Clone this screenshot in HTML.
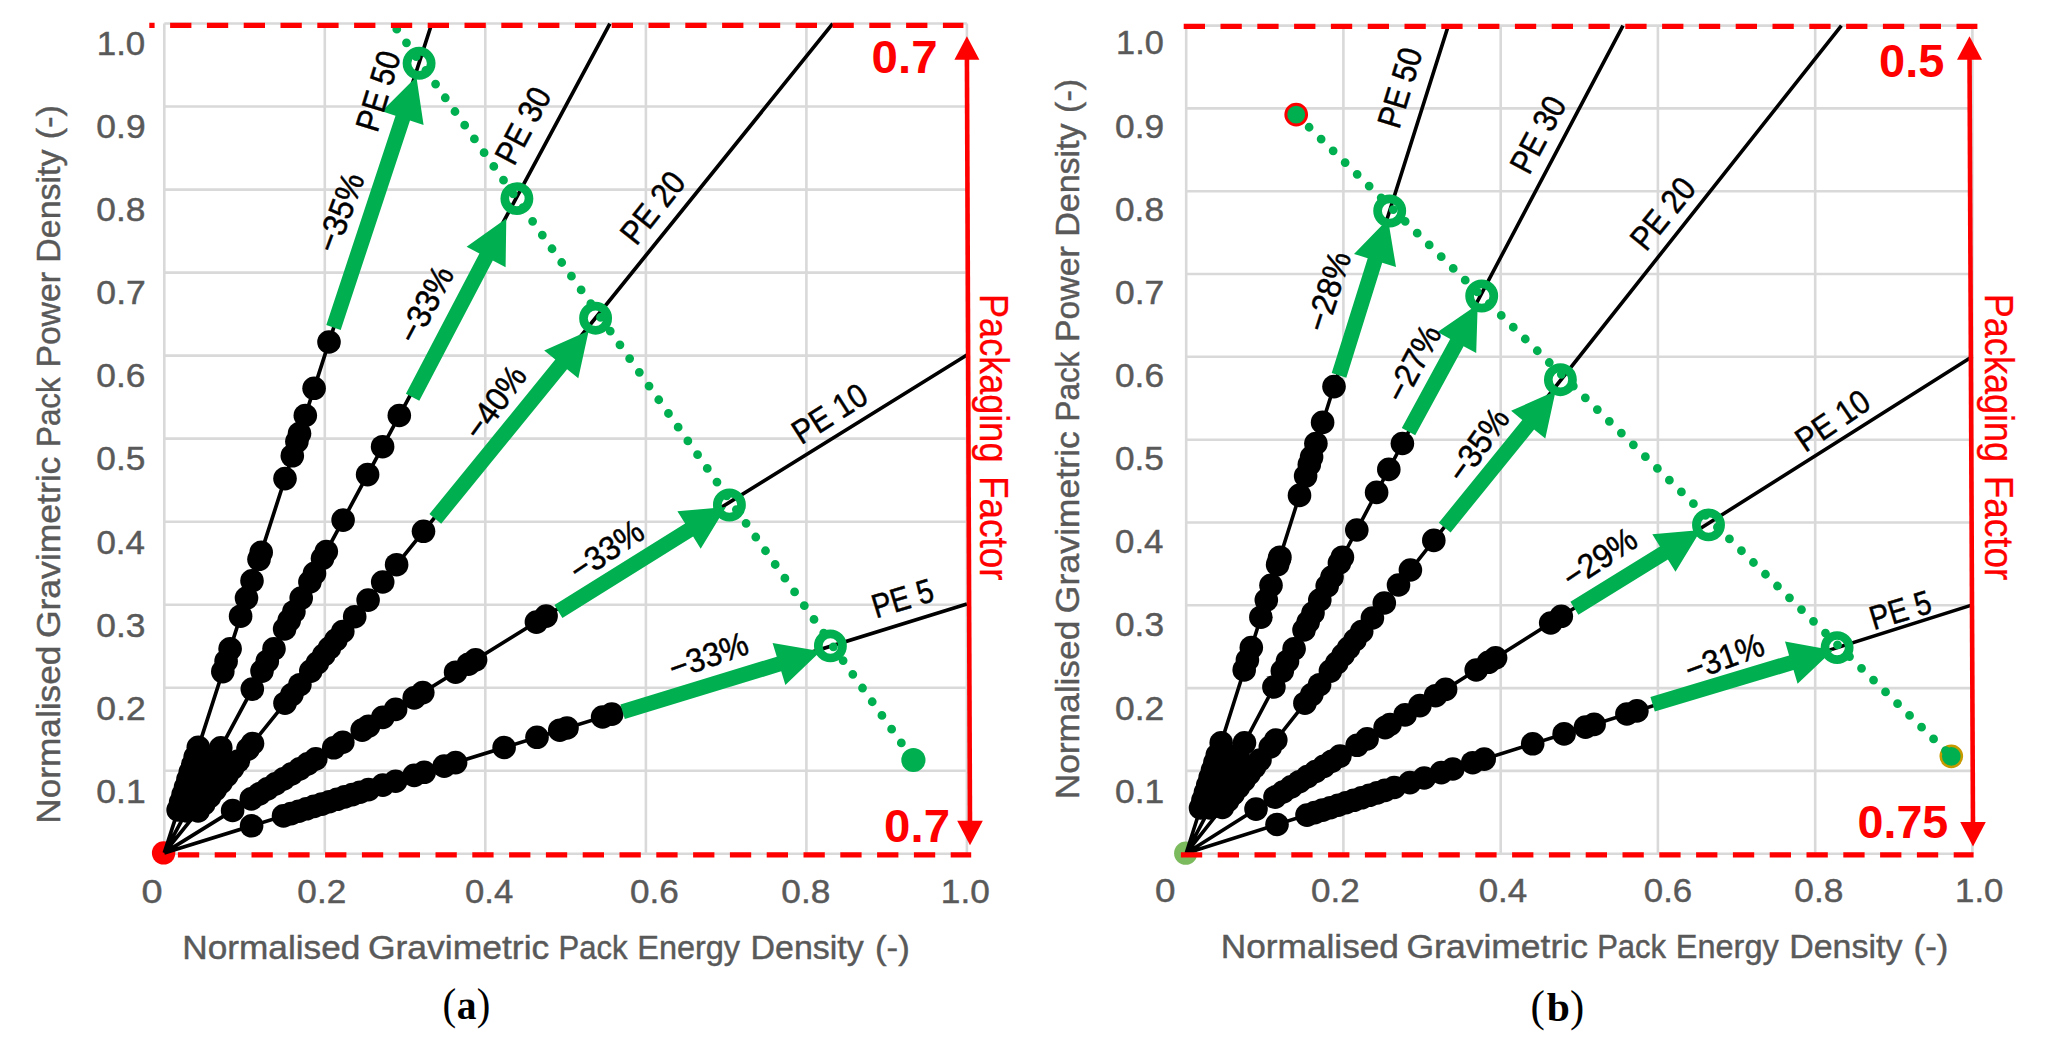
<!DOCTYPE html>
<html lang="en"><head><meta charset="utf-8"><title>Normalised Gravimetric Pack Power vs Energy Density</title>
<style>html,body{margin:0;padding:0;background:#fff}svg{display:block}</style></head>
<body>
<svg width="2045" height="1051" viewBox="0 0 2045 1051">
<rect width="2045" height="1051" fill="#fff"/>
<path d="M164.3 853.8H966.9M164.3 770.8H966.9M164.3 687.7H966.9M164.3 604.7H966.9M164.3 521.7H966.9M164.3 438.6H966.9M164.3 355.6H966.9M164.3 272.6H966.9M164.3 189.6H966.9M164.3 106.5H966.9M164.3 23.5H966.9M164.3 23.5V853.8M324.8 23.5V853.8M485.3 23.5V853.8M645.9 23.5V853.8M806.4 23.5V853.8M966.9 23.5V853.8" stroke="#D9D9D9" stroke-width="2.6" fill="none"/>
<circle cx="163.6" cy="852.9" r="11.7" fill="#FF0000"/>
<path d="M164.3 852.9L431.7 23.7M164.3 852.9L609.9 23.7M164.3 852.9L832.7 23.7M164.3 852.9L966.9 355.0M164.3 852.9L966.9 604.0" stroke="#000" stroke-width="3.7" fill="none"/>
<g fill="#000"><circle cx="329.0" cy="342.0" r="11.8"/><circle cx="314.1" cy="388.3" r="11.8"/><circle cx="305.3" cy="415.5" r="11.8"/><circle cx="299.5" cy="433.6" r="11.8"/><circle cx="296.9" cy="441.5" r="11.8"/><circle cx="292.3" cy="455.8" r="11.8"/><circle cx="285.0" cy="478.6" r="11.8"/><circle cx="261.2" cy="552.3" r="11.8"/><circle cx="259.0" cy="559.3" r="11.8"/><circle cx="252.0" cy="580.8" r="11.8"/><circle cx="246.5" cy="598.1" r="11.8"/><circle cx="240.6" cy="616.2" r="11.8"/><circle cx="230.1" cy="648.8" r="11.8"/><circle cx="226.1" cy="661.2" r="11.8"/><circle cx="222.8" cy="671.6" r="11.8"/><circle cx="198.3" cy="747.3" r="11.8"/><circle cx="195.2" cy="757.0" r="11.8"/><circle cx="192.8" cy="764.6" r="11.8"/><circle cx="190.3" cy="772.1" r="11.8"/><circle cx="187.9" cy="779.7" r="11.8"/><circle cx="185.5" cy="787.3" r="11.8"/><circle cx="183.0" cy="794.9" r="11.8"/><circle cx="180.6" cy="802.4" r="11.8"/><circle cx="178.1" cy="810.0" r="11.8"/><circle cx="399.3" cy="415.5" r="11.8"/><circle cx="382.6" cy="446.7" r="11.8"/><circle cx="367.6" cy="474.6" r="11.8"/><circle cx="343.1" cy="520.1" r="11.8"/><circle cx="326.3" cy="551.5" r="11.8"/><circle cx="322.5" cy="558.5" r="11.8"/><circle cx="314.5" cy="573.4" r="11.8"/><circle cx="309.9" cy="582.0" r="11.8"/><circle cx="301.2" cy="598.1" r="11.8"/><circle cx="293.9" cy="611.7" r="11.8"/><circle cx="289.2" cy="620.4" r="11.8"/><circle cx="284.6" cy="629.0" r="11.8"/><circle cx="274.0" cy="648.8" r="11.8"/><circle cx="267.3" cy="661.2" r="11.8"/><circle cx="262.0" cy="671.1" r="11.8"/><circle cx="252.3" cy="689.1" r="11.8"/><circle cx="220.8" cy="747.8" r="11.8"/><circle cx="215.8" cy="757.0" r="11.8"/><circle cx="211.7" cy="764.7" r="11.8"/><circle cx="207.5" cy="772.4" r="11.8"/><circle cx="203.4" cy="780.1" r="11.8"/><circle cx="199.3" cy="787.9" r="11.8"/><circle cx="195.1" cy="795.6" r="11.8"/><circle cx="191.0" cy="803.3" r="11.8"/><circle cx="186.8" cy="811.0" r="11.8"/><circle cx="423.5" cy="531.3" r="11.8"/><circle cx="396.6" cy="564.7" r="11.8"/><circle cx="382.7" cy="582.0" r="11.8"/><circle cx="368.1" cy="600.1" r="11.8"/><circle cx="354.7" cy="616.7" r="11.8"/><circle cx="342.8" cy="631.5" r="11.8"/><circle cx="335.9" cy="640.0" r="11.8"/><circle cx="329.5" cy="648.0" r="11.8"/><circle cx="323.8" cy="655.0" r="11.8"/><circle cx="317.4" cy="663.0" r="11.8"/><circle cx="310.8" cy="671.1" r="11.8"/><circle cx="299.9" cy="684.7" r="11.8"/><circle cx="291.9" cy="694.6" r="11.8"/><circle cx="285.0" cy="703.2" r="11.8"/><circle cx="252.5" cy="743.5" r="11.8"/><circle cx="248.0" cy="749.0" r="11.8"/><circle cx="238.4" cy="761.0" r="11.8"/><circle cx="232.6" cy="768.1" r="11.8"/><circle cx="226.9" cy="775.3" r="11.8"/><circle cx="221.1" cy="782.4" r="11.8"/><circle cx="215.3" cy="789.6" r="11.8"/><circle cx="209.6" cy="796.7" r="11.8"/><circle cx="203.8" cy="803.9" r="11.8"/><circle cx="198.1" cy="811.0" r="11.8"/><circle cx="546.1" cy="616.1" r="11.8"/><circle cx="536.4" cy="622.1" r="11.8"/><circle cx="475.6" cy="659.8" r="11.8"/><circle cx="468.5" cy="664.2" r="11.8"/><circle cx="455.6" cy="672.2" r="11.8"/><circle cx="422.8" cy="692.6" r="11.8"/><circle cx="414.2" cy="697.9" r="11.8"/><circle cx="395.6" cy="709.4" r="11.8"/><circle cx="382.8" cy="717.4" r="11.8"/><circle cx="368.5" cy="726.2" r="11.8"/><circle cx="362.2" cy="730.1" r="11.8"/><circle cx="342.8" cy="742.2" r="11.8"/><circle cx="333.7" cy="747.8" r="11.8"/><circle cx="315.8" cy="758.9" r="11.8"/><circle cx="307.7" cy="763.9" r="11.8"/><circle cx="299.7" cy="768.9" r="11.8"/><circle cx="291.6" cy="773.9" r="11.8"/><circle cx="283.6" cy="778.9" r="11.8"/><circle cx="275.5" cy="783.9" r="11.8"/><circle cx="267.4" cy="788.9" r="11.8"/><circle cx="259.4" cy="793.9" r="11.8"/><circle cx="251.3" cy="798.9" r="11.8"/><circle cx="232.6" cy="810.5" r="11.8"/><circle cx="611.8" cy="714.1" r="11.8"/><circle cx="602.6" cy="717.0" r="11.8"/><circle cx="567.0" cy="728.0" r="11.8"/><circle cx="559.8" cy="730.2" r="11.8"/><circle cx="537.0" cy="737.3" r="11.8"/><circle cx="504.1" cy="747.5" r="11.8"/><circle cx="455.6" cy="762.6" r="11.8"/><circle cx="444.2" cy="766.1" r="11.8"/><circle cx="424.2" cy="772.3" r="11.8"/><circle cx="414.2" cy="775.4" r="11.8"/><circle cx="395.6" cy="781.2" r="11.8"/><circle cx="382.8" cy="785.1" r="11.8"/><circle cx="368.5" cy="789.6" r="11.8"/><circle cx="360.0" cy="792.2" r="11.8"/><circle cx="352.4" cy="794.6" r="11.8"/><circle cx="344.7" cy="796.9" r="11.8"/><circle cx="337.1" cy="799.3" r="11.8"/><circle cx="329.4" cy="801.7" r="11.8"/><circle cx="321.8" cy="804.1" r="11.8"/><circle cx="314.1" cy="806.4" r="11.8"/><circle cx="306.4" cy="808.8" r="11.8"/><circle cx="298.8" cy="811.2" r="11.8"/><circle cx="291.1" cy="813.6" r="11.8"/><circle cx="283.5" cy="815.9" r="11.8"/><circle cx="251.6" cy="825.8" r="11.8"/></g>
<circle cx="913.4" cy="760.0" r="12.1" fill="#00B050"/>
<circle cx="419.1" cy="63.3" r="12.1" fill="none" stroke="#00B050" stroke-width="8.7"/>
<circle cx="516.9" cy="198.6" r="12.1" fill="none" stroke="#00B050" stroke-width="8.7"/>
<circle cx="595.6" cy="318.2" r="12.1" fill="none" stroke="#00B050" stroke-width="8.7"/>
<circle cx="729.4" cy="505.0" r="12.1" fill="none" stroke="#00B050" stroke-width="8.7"/>
<circle cx="830.4" cy="645.9" r="12.1" fill="none" stroke="#00B050" stroke-width="8.7"/>
<clipPath id="clipa"><rect x="164.3" y="24.7" width="802.6" height="829.2"/></clipPath>
<path d="M913.4 760.0L388.9 18.0" clip-path="url(#clipa)" stroke="#00B050" stroke-width="8.8" stroke-linecap="round" stroke-dasharray="0 16.81" stroke-dashoffset="12.71" fill="none"/>
<polygon points="340.7,329.9 410.0,120.5 423.6,125.0 416.4,76.8 381.9,111.2 395.5,115.7 326.3,325.1" fill="#00B050"/>
<polygon points="419.3,400.7 492.8,260.6 505.6,267.2 506.3,218.5 466.6,246.8 479.4,253.5 405.9,393.7" fill="#00B050"/>
<polygon points="441.2,523.7 567.1,369.2 578.3,378.3 588.7,330.7 544.2,350.5 555.3,359.6 429.4,514.1" fill="#00B050"/>
<polygon points="562.4,617.9 693.1,536.5 700.7,548.7 726.0,507.0 677.4,511.3 685.1,523.5 554.4,604.9" fill="#00B050"/>
<polygon points="624.8,719.0 781.2,671.3 785.4,685.0 820.6,651.3 772.6,642.9 776.8,656.7 620.4,704.4" fill="#00B050"/>
<path d="M1186.2 853.7H1972.4M1186.2 770.9H1972.4M1186.2 688.1H1972.4M1186.2 605.3H1972.4M1186.2 522.5H1972.4M1186.2 439.7H1972.4M1186.2 356.8H1972.4M1186.2 274.0H1972.4M1186.2 191.2H1972.4M1186.2 108.4H1972.4M1186.2 25.6H1972.4M1186.2 25.6V853.7M1343.4 25.6V853.7M1500.7 25.6V853.7M1657.9 25.6V853.7M1815.2 25.6V853.7M1972.4 25.6V853.7" stroke="#D9D9D9" stroke-width="2.6" fill="none"/>
<circle cx="1185.7" cy="853.2" r="11.6" fill="#7CBA5E"/>
<path d="M1186.2 853.2L1448.3 25.6M1186.2 853.2L1623.0 25.6M1186.2 853.2L1841.4 25.6M1186.2 853.2L1972.4 356.6M1186.2 853.2L1972.4 604.9" stroke="#000" stroke-width="3.6" fill="none"/>
<g fill="#000"><circle cx="1334.0" cy="386.6" r="11.8"/><circle cx="1322.6" cy="422.4" r="11.8"/><circle cx="1315.9" cy="443.5" r="11.8"/><circle cx="1311.6" cy="457.1" r="11.8"/><circle cx="1309.3" cy="464.5" r="11.8"/><circle cx="1305.6" cy="476.1" r="11.8"/><circle cx="1299.5" cy="495.4" r="11.8"/><circle cx="1279.9" cy="557.2" r="11.8"/><circle cx="1279.3" cy="559.3" r="11.8"/><circle cx="1277.6" cy="564.7" r="11.8"/><circle cx="1271.0" cy="585.3" r="11.8"/><circle cx="1266.3" cy="600.1" r="11.8"/><circle cx="1260.9" cy="617.2" r="11.8"/><circle cx="1251.3" cy="647.6" r="11.8"/><circle cx="1247.4" cy="660.0" r="11.8"/><circle cx="1244.2" cy="669.9" r="11.8"/><circle cx="1221.2" cy="742.8" r="11.8"/><circle cx="1217.3" cy="755.0" r="11.8"/><circle cx="1214.9" cy="762.6" r="11.8"/><circle cx="1212.5" cy="770.1" r="11.8"/><circle cx="1210.1" cy="777.7" r="11.8"/><circle cx="1207.7" cy="785.3" r="11.8"/><circle cx="1205.3" cy="792.9" r="11.8"/><circle cx="1202.9" cy="800.4" r="11.8"/><circle cx="1200.5" cy="808.0" r="11.8"/><circle cx="1402.4" cy="443.5" r="11.8"/><circle cx="1388.8" cy="469.4" r="11.8"/><circle cx="1376.6" cy="492.4" r="11.8"/><circle cx="1356.8" cy="530.0" r="11.8"/><circle cx="1342.4" cy="557.2" r="11.8"/><circle cx="1339.4" cy="563.0" r="11.8"/><circle cx="1332.0" cy="577.0" r="11.8"/><circle cx="1327.2" cy="586.0" r="11.8"/><circle cx="1319.8" cy="600.0" r="11.8"/><circle cx="1313.0" cy="613.0" r="11.8"/><circle cx="1308.2" cy="622.0" r="11.8"/><circle cx="1304.0" cy="630.0" r="11.8"/><circle cx="1294.1" cy="648.8" r="11.8"/><circle cx="1287.5" cy="661.2" r="11.8"/><circle cx="1282.3" cy="671.1" r="11.8"/><circle cx="1273.9" cy="687.0" r="11.8"/><circle cx="1244.5" cy="742.8" r="11.8"/><circle cx="1238.0" cy="755.0" r="11.8"/><circle cx="1234.0" cy="762.6" r="11.8"/><circle cx="1230.0" cy="770.1" r="11.8"/><circle cx="1226.0" cy="777.7" r="11.8"/><circle cx="1222.0" cy="785.3" r="11.8"/><circle cx="1218.0" cy="792.9" r="11.8"/><circle cx="1214.1" cy="800.4" r="11.8"/><circle cx="1210.1" cy="808.0" r="11.8"/><circle cx="1433.8" cy="540.4" r="11.8"/><circle cx="1410.4" cy="570.0" r="11.8"/><circle cx="1398.5" cy="585.0" r="11.8"/><circle cx="1384.3" cy="603.0" r="11.8"/><circle cx="1372.4" cy="618.0" r="11.8"/><circle cx="1361.7" cy="631.5" r="11.8"/><circle cx="1355.0" cy="640.0" r="11.8"/><circle cx="1348.6" cy="648.0" r="11.8"/><circle cx="1343.1" cy="655.0" r="11.8"/><circle cx="1336.8" cy="663.0" r="11.8"/><circle cx="1330.4" cy="671.1" r="11.8"/><circle cx="1319.6" cy="684.7" r="11.8"/><circle cx="1311.8" cy="694.6" r="11.8"/><circle cx="1304.9" cy="703.2" r="11.8"/><circle cx="1275.8" cy="740.0" r="11.8"/><circle cx="1270.3" cy="747.0" r="11.8"/><circle cx="1260.0" cy="760.0" r="11.8"/><circle cx="1254.6" cy="766.8" r="11.8"/><circle cx="1249.2" cy="773.6" r="11.8"/><circle cx="1243.9" cy="780.4" r="11.8"/><circle cx="1238.5" cy="787.1" r="11.8"/><circle cx="1233.1" cy="793.9" r="11.8"/><circle cx="1227.7" cy="800.7" r="11.8"/><circle cx="1222.4" cy="807.5" r="11.8"/><circle cx="1561.3" cy="616.3" r="11.8"/><circle cx="1550.7" cy="623.0" r="11.8"/><circle cx="1495.6" cy="657.8" r="11.8"/><circle cx="1488.5" cy="662.3" r="11.8"/><circle cx="1476.2" cy="670.0" r="11.8"/><circle cx="1445.6" cy="689.4" r="11.8"/><circle cx="1435.6" cy="695.7" r="11.8"/><circle cx="1419.9" cy="705.6" r="11.8"/><circle cx="1405.1" cy="714.9" r="11.8"/><circle cx="1390.0" cy="724.5" r="11.8"/><circle cx="1385.1" cy="727.6" r="11.8"/><circle cx="1367.1" cy="738.9" r="11.8"/><circle cx="1357.1" cy="745.3" r="11.8"/><circle cx="1340.0" cy="756.1" r="11.8"/><circle cx="1331.9" cy="761.2" r="11.8"/><circle cx="1323.8" cy="766.3" r="11.8"/><circle cx="1315.6" cy="771.5" r="11.8"/><circle cx="1307.5" cy="776.6" r="11.8"/><circle cx="1299.4" cy="781.7" r="11.8"/><circle cx="1291.2" cy="786.9" r="11.8"/><circle cx="1283.1" cy="792.0" r="11.8"/><circle cx="1275.0" cy="797.1" r="11.8"/><circle cx="1256.0" cy="809.1" r="11.8"/><circle cx="1636.9" cy="710.9" r="11.8"/><circle cx="1626.9" cy="714.0" r="11.8"/><circle cx="1594.1" cy="724.4" r="11.8"/><circle cx="1585.5" cy="727.1" r="11.8"/><circle cx="1564.1" cy="733.9" r="11.8"/><circle cx="1532.7" cy="743.8" r="11.8"/><circle cx="1484.2" cy="759.1" r="11.8"/><circle cx="1472.7" cy="762.7" r="11.8"/><circle cx="1452.8" cy="769.0" r="11.8"/><circle cx="1441.3" cy="772.6" r="11.8"/><circle cx="1424.2" cy="778.0" r="11.8"/><circle cx="1409.9" cy="782.6" r="11.8"/><circle cx="1394.2" cy="787.5" r="11.8"/><circle cx="1385.0" cy="790.4" r="11.8"/><circle cx="1377.2" cy="792.9" r="11.8"/><circle cx="1369.4" cy="795.3" r="11.8"/><circle cx="1361.6" cy="797.8" r="11.8"/><circle cx="1353.8" cy="800.3" r="11.8"/><circle cx="1346.0" cy="802.7" r="11.8"/><circle cx="1338.2" cy="805.2" r="11.8"/><circle cx="1330.4" cy="807.7" r="11.8"/><circle cx="1322.6" cy="810.1" r="11.8"/><circle cx="1314.8" cy="812.6" r="11.8"/><circle cx="1307.0" cy="815.1" r="11.8"/><circle cx="1277.0" cy="824.5" r="11.8"/></g>
<circle cx="1951.3" cy="756.3" r="10.6" fill="#00B050" stroke="#C69A00" stroke-width="2.5"/>
<circle cx="1296.2" cy="114.6" r="10.4" fill="#00B050" stroke="#FF0000" stroke-width="2.9"/>
<circle cx="1389.7" cy="211.0" r="12.1" fill="none" stroke="#00B050" stroke-width="8.7"/>
<circle cx="1481.7" cy="296.0" r="12.1" fill="none" stroke="#00B050" stroke-width="8.7"/>
<circle cx="1560.4" cy="379.7" r="12.1" fill="none" stroke="#00B050" stroke-width="8.7"/>
<circle cx="1708.5" cy="524.9" r="12.1" fill="none" stroke="#00B050" stroke-width="8.7"/>
<circle cx="1837.1" cy="647.6" r="12.1" fill="none" stroke="#00B050" stroke-width="8.7"/>
<clipPath id="clipb"><rect x="1186.2" y="26.6" width="786.2" height="827.6"/></clipPath>
<path d="M1951.3 756.3L1296.2 114.6" clip-path="url(#clipb)" stroke="#00B050" stroke-width="8.8" stroke-linecap="round" stroke-dasharray="0 16.81" stroke-dashoffset="8.81" fill="none"/>
<polygon points="1346.3,377.7 1382.2,262.8 1396.0,267.1 1388.0,219.0 1354.0,253.9 1367.7,258.2 1331.7,373.1" fill="#00B050"/>
<polygon points="1415.2,435.2 1463.6,346.2 1476.2,353.1 1477.7,304.4 1437.6,332.1 1450.2,339.0 1401.8,428.0" fill="#00B050"/>
<polygon points="1450.6,532.4 1534.1,429.5 1545.3,438.5 1555.6,390.9 1511.1,410.8 1522.3,419.9 1438.8,522.8" fill="#00B050"/>
<polygon points="1578.4,614.8 1667.9,559.4 1675.5,571.7 1700.9,530.1 1652.3,534.3 1659.9,546.5 1570.4,601.8" fill="#00B050"/>
<polygon points="1654.8,711.5 1793.5,670.0 1797.6,683.8 1833.0,650.2 1785.0,641.6 1789.1,655.4 1650.4,696.9" fill="#00B050"/>
<path d="M149.3 25.4H963.4" stroke="#FF0000" stroke-width="5.2" stroke-dasharray="21.3 15.5" stroke-dashoffset="16" fill="none"/>
<path d="M177.9 854.8H971.2" stroke="#FF0000" stroke-width="5.2" stroke-dasharray="21.3 15.5" stroke-dashoffset="0" fill="none"/>
<path d="M1183.7 26.3H1977.4" stroke="#FF0000" stroke-width="5.2" stroke-dasharray="21.3 15.5" stroke-dashoffset="0" fill="none"/>
<path d="M1180.9 854.8H1973.6" stroke="#FF0000" stroke-width="5.2" stroke-dasharray="21.3 15.5" stroke-dashoffset="0" fill="none"/>
<path d="M966.9 51.2L970 830.2" stroke="#FF0000" stroke-width="4.6" fill="none"/>
<polygon points="966.9,36.2 954.4,59.7 979.4,59.7" fill="#FF0000"/>
<polygon points="970,845.2 957.2,820.7 982.8,820.7" fill="#FF0000"/>
<path d="M1969.5 51.2L1973 831.4" stroke="#FF0000" stroke-width="4.6" fill="none"/>
<polygon points="1969.5,36.2 1957.0,59.7 1982.0,59.7" fill="#FF0000"/>
<polygon points="1973,846.4 1960.2,821.9 1985.8,821.9" fill="#FF0000"/>
<text x="871.60" y="72.60" font-family="'Liberation Sans', sans-serif" font-size="45.9" fill="#FF0000" textLength="65.92" lengthAdjust="spacingAndGlyphs" font-weight="bold">0.7</text>
<text x="884.10" y="841.70" font-family="'Liberation Sans', sans-serif" font-size="45.9" fill="#FF0000" textLength="65.92" lengthAdjust="spacingAndGlyphs" font-weight="bold">0.7</text>
<text x="1879.12" y="76.60" font-family="'Liberation Sans', sans-serif" font-size="45.9" fill="#FF0000" textLength="65.28" lengthAdjust="spacingAndGlyphs" font-weight="bold">0.5</text>
<text x="1857.53" y="837.80" font-family="'Liberation Sans', sans-serif" font-size="45.9" fill="#FF0000" textLength="90.81" lengthAdjust="spacingAndGlyphs" font-weight="bold">0.75</text>
<text transform="translate(979.90 297.00) rotate(90)" x="-2.98" y="0.00" font-family="'Liberation Sans', sans-serif" font-size="39.9" fill="#FF0000" textLength="168.43" lengthAdjust="spacingAndGlyphs" stroke="#FF0000" stroke-width="0.3">Packaging</text>
<text transform="translate(979.90 297.00) rotate(90)" x="178.95" y="0.00" font-family="'Liberation Sans', sans-serif" font-size="39.9" fill="#FF0000" textLength="104.66" lengthAdjust="spacingAndGlyphs" stroke="#FF0000" stroke-width="0.3">Factor</text>
<text transform="translate(1984.60 296.70) rotate(90)" x="-2.98" y="0.00" font-family="'Liberation Sans', sans-serif" font-size="39.9" fill="#FF0000" textLength="168.43" lengthAdjust="spacingAndGlyphs" stroke="#FF0000" stroke-width="0.3">Packaging</text>
<text transform="translate(1984.60 296.70) rotate(90)" x="178.95" y="0.00" font-family="'Liberation Sans', sans-serif" font-size="39.9" fill="#FF0000" textLength="104.66" lengthAdjust="spacingAndGlyphs" stroke="#FF0000" stroke-width="0.3">Factor</text>
<text x="96.38" y="802.95" font-family="'Liberation Sans', sans-serif" font-size="32.6" fill="#595959" textLength="49.31" lengthAdjust="spacingAndGlyphs" stroke="#595959" stroke-width="0.45">0.1</text>
<text x="1114.98" y="802.75" font-family="'Liberation Sans', sans-serif" font-size="32.6" fill="#595959" textLength="49.20" lengthAdjust="spacingAndGlyphs" stroke="#595959" stroke-width="0.45">0.1</text>
<text x="96.38" y="719.80" font-family="'Liberation Sans', sans-serif" font-size="32.6" fill="#595959" textLength="49.41" lengthAdjust="spacingAndGlyphs" stroke="#595959" stroke-width="0.45">0.2</text>
<text x="1114.98" y="719.60" font-family="'Liberation Sans', sans-serif" font-size="32.6" fill="#595959" textLength="49.30" lengthAdjust="spacingAndGlyphs" stroke="#595959" stroke-width="0.45">0.2</text>
<text x="96.39" y="636.65" font-family="'Liberation Sans', sans-serif" font-size="32.6" fill="#595959" textLength="49.12" lengthAdjust="spacingAndGlyphs" stroke="#595959" stroke-width="0.45">0.3</text>
<text x="1114.99" y="636.45" font-family="'Liberation Sans', sans-serif" font-size="32.6" fill="#595959" textLength="49.02" lengthAdjust="spacingAndGlyphs" stroke="#595959" stroke-width="0.45">0.3</text>
<text x="96.40" y="553.50" font-family="'Liberation Sans', sans-serif" font-size="32.6" fill="#595959" textLength="48.56" lengthAdjust="spacingAndGlyphs" stroke="#595959" stroke-width="0.45">0.4</text>
<text x="1115.01" y="553.30" font-family="'Liberation Sans', sans-serif" font-size="32.6" fill="#595959" textLength="48.46" lengthAdjust="spacingAndGlyphs" stroke="#595959" stroke-width="0.45">0.4</text>
<text x="96.39" y="470.35" font-family="'Liberation Sans', sans-serif" font-size="32.6" fill="#595959" textLength="49.03" lengthAdjust="spacingAndGlyphs" stroke="#595959" stroke-width="0.45">0.5</text>
<text x="1114.99" y="470.15" font-family="'Liberation Sans', sans-serif" font-size="32.6" fill="#595959" textLength="48.92" lengthAdjust="spacingAndGlyphs" stroke="#595959" stroke-width="0.45">0.5</text>
<text x="96.39" y="387.20" font-family="'Liberation Sans', sans-serif" font-size="32.6" fill="#595959" textLength="49.12" lengthAdjust="spacingAndGlyphs" stroke="#595959" stroke-width="0.45">0.6</text>
<text x="1114.99" y="387.00" font-family="'Liberation Sans', sans-serif" font-size="32.6" fill="#595959" textLength="49.02" lengthAdjust="spacingAndGlyphs" stroke="#595959" stroke-width="0.45">0.6</text>
<text x="96.38" y="304.05" font-family="'Liberation Sans', sans-serif" font-size="32.6" fill="#595959" textLength="49.41" lengthAdjust="spacingAndGlyphs" stroke="#595959" stroke-width="0.45">0.7</text>
<text x="1114.98" y="303.85" font-family="'Liberation Sans', sans-serif" font-size="32.6" fill="#595959" textLength="49.30" lengthAdjust="spacingAndGlyphs" stroke="#595959" stroke-width="0.45">0.7</text>
<text x="96.39" y="220.90" font-family="'Liberation Sans', sans-serif" font-size="32.6" fill="#595959" textLength="49.12" lengthAdjust="spacingAndGlyphs" stroke="#595959" stroke-width="0.45">0.8</text>
<text x="1114.99" y="220.70" font-family="'Liberation Sans', sans-serif" font-size="32.6" fill="#595959" textLength="49.02" lengthAdjust="spacingAndGlyphs" stroke="#595959" stroke-width="0.45">0.8</text>
<text x="96.38" y="137.75" font-family="'Liberation Sans', sans-serif" font-size="32.6" fill="#595959" textLength="49.22" lengthAdjust="spacingAndGlyphs" stroke="#595959" stroke-width="0.45">0.9</text>
<text x="1114.99" y="137.55" font-family="'Liberation Sans', sans-serif" font-size="32.6" fill="#595959" textLength="49.11" lengthAdjust="spacingAndGlyphs" stroke="#595959" stroke-width="0.45">0.9</text>
<text x="96.78" y="54.60" font-family="'Liberation Sans', sans-serif" font-size="32.6" fill="#595959" textLength="48.53" lengthAdjust="spacingAndGlyphs" stroke="#595959" stroke-width="0.45">1.0</text>
<text x="1116.13" y="54.40" font-family="'Liberation Sans', sans-serif" font-size="32.6" fill="#595959" textLength="47.66" lengthAdjust="spacingAndGlyphs" stroke="#595959" stroke-width="0.45">1.0</text>
<text x="141.48" y="902.80" font-family="'Liberation Sans', sans-serif" font-size="32.6" fill="#595959" textLength="21.08" lengthAdjust="spacingAndGlyphs" stroke="#595959" stroke-width="0.45">0</text>
<text x="297.39" y="902.80" font-family="'Liberation Sans', sans-serif" font-size="32.6" fill="#595959" textLength="48.87" lengthAdjust="spacingAndGlyphs" stroke="#595959" stroke-width="0.45">0.2</text>
<text x="465.01" y="902.80" font-family="'Liberation Sans', sans-serif" font-size="32.6" fill="#595959" textLength="48.25" lengthAdjust="spacingAndGlyphs" stroke="#595959" stroke-width="0.45">0.4</text>
<text x="630.10" y="902.80" font-family="'Liberation Sans', sans-serif" font-size="32.6" fill="#595959" textLength="48.80" lengthAdjust="spacingAndGlyphs" stroke="#595959" stroke-width="0.45">0.6</text>
<text x="781.29" y="902.80" font-family="'Liberation Sans', sans-serif" font-size="32.6" fill="#595959" textLength="49.02" lengthAdjust="spacingAndGlyphs" stroke="#595959" stroke-width="0.45">0.8</text>
<text x="940.86" y="902.80" font-family="'Liberation Sans', sans-serif" font-size="32.6" fill="#595959" textLength="48.97" lengthAdjust="spacingAndGlyphs" stroke="#595959" stroke-width="0.45">1.0</text>
<text x="1155.13" y="902.20" font-family="'Liberation Sans', sans-serif" font-size="32.6" fill="#595959" textLength="20.50" lengthAdjust="spacingAndGlyphs" stroke="#595959" stroke-width="0.45">0</text>
<text x="1311.00" y="902.20" font-family="'Liberation Sans', sans-serif" font-size="32.6" fill="#595959" textLength="48.76" lengthAdjust="spacingAndGlyphs" stroke="#595959" stroke-width="0.45">0.2</text>
<text x="1478.70" y="902.20" font-family="'Liberation Sans', sans-serif" font-size="32.6" fill="#595959" textLength="48.56" lengthAdjust="spacingAndGlyphs" stroke="#595959" stroke-width="0.45">0.4</text>
<text x="1643.81" y="902.20" font-family="'Liberation Sans', sans-serif" font-size="32.6" fill="#595959" textLength="48.38" lengthAdjust="spacingAndGlyphs" stroke="#595959" stroke-width="0.45">0.6</text>
<text x="1794.29" y="902.20" font-family="'Liberation Sans', sans-serif" font-size="32.6" fill="#595959" textLength="49.12" lengthAdjust="spacingAndGlyphs" stroke="#595959" stroke-width="0.45">0.8</text>
<text x="1955.09" y="902.20" font-family="'Liberation Sans', sans-serif" font-size="32.6" fill="#595959" textLength="48.32" lengthAdjust="spacingAndGlyphs" stroke="#595959" stroke-width="0.45">1.0</text>
<text x="182.19" y="958.70" font-family="'Liberation Sans', sans-serif" font-size="34.0" fill="#595959" textLength="178.19" lengthAdjust="spacingAndGlyphs" stroke="#595959" stroke-width="0.45">Normalised</text>
<text x="1220.79" y="958.10" font-family="'Liberation Sans', sans-serif" font-size="34.0" fill="#595959" textLength="178.19" lengthAdjust="spacingAndGlyphs" stroke="#595959" stroke-width="0.45">Normalised</text>
<text x="367.93" y="958.70" font-family="'Liberation Sans', sans-serif" font-size="34.0" fill="#595959" textLength="181.41" lengthAdjust="spacingAndGlyphs" stroke="#595959" stroke-width="0.45">Gravimetric</text>
<text x="1406.53" y="958.10" font-family="'Liberation Sans', sans-serif" font-size="34.0" fill="#595959" textLength="181.41" lengthAdjust="spacingAndGlyphs" stroke="#595959" stroke-width="0.45">Gravimetric</text>
<text x="558.54" y="958.70" font-family="'Liberation Sans', sans-serif" font-size="34.0" fill="#595959" textLength="68.98" lengthAdjust="spacingAndGlyphs" stroke="#595959" stroke-width="0.45">Pack</text>
<text x="1597.14" y="958.10" font-family="'Liberation Sans', sans-serif" font-size="34.0" fill="#595959" textLength="68.98" lengthAdjust="spacingAndGlyphs" stroke="#595959" stroke-width="0.45">Pack</text>
<text x="637.22" y="958.70" font-family="'Liberation Sans', sans-serif" font-size="34.0" fill="#595959" textLength="102.89" lengthAdjust="spacingAndGlyphs" stroke="#595959" stroke-width="0.45">Energy</text>
<text x="1675.82" y="958.10" font-family="'Liberation Sans', sans-serif" font-size="34.0" fill="#595959" textLength="102.89" lengthAdjust="spacingAndGlyphs" stroke="#595959" stroke-width="0.45">Energy</text>
<text x="750.60" y="958.70" font-family="'Liberation Sans', sans-serif" font-size="34.0" fill="#595959" textLength="113.17" lengthAdjust="spacingAndGlyphs" stroke="#595959" stroke-width="0.45">Density</text>
<text x="1789.20" y="958.10" font-family="'Liberation Sans', sans-serif" font-size="34.0" fill="#595959" textLength="113.17" lengthAdjust="spacingAndGlyphs" stroke="#595959" stroke-width="0.45">Density</text>
<text x="875.03" y="958.70" font-family="'Liberation Sans', sans-serif" font-size="34.0" fill="#595959" textLength="34.69" lengthAdjust="spacingAndGlyphs" stroke="#595959" stroke-width="0.45">(-)</text>
<text x="1913.63" y="958.10" font-family="'Liberation Sans', sans-serif" font-size="34.0" fill="#595959" textLength="34.69" lengthAdjust="spacingAndGlyphs" stroke="#595959" stroke-width="0.45">(-)</text>
<text transform="translate(59.60 820.90) rotate(-90)" x="-2.91" y="0.00" font-family="'Liberation Sans', sans-serif" font-size="34.0" fill="#595959" textLength="178.19" lengthAdjust="spacingAndGlyphs" stroke="#595959" stroke-width="0.45">Normalised</text>
<text transform="translate(1078.90 796.40) rotate(-90)" x="-2.91" y="0.00" font-family="'Liberation Sans', sans-serif" font-size="34.0" fill="#595959" textLength="178.63" lengthAdjust="spacingAndGlyphs" stroke="#595959" stroke-width="0.45">Normalised</text>
<text transform="translate(59.60 820.90) rotate(-90)" x="182.83" y="0.00" font-family="'Liberation Sans', sans-serif" font-size="34.0" fill="#595959" textLength="181.41" lengthAdjust="spacingAndGlyphs" stroke="#595959" stroke-width="0.45">Gravimetric</text>
<text transform="translate(1078.90 796.40) rotate(-90)" x="183.28" y="0.00" font-family="'Liberation Sans', sans-serif" font-size="34.0" fill="#595959" textLength="181.87" lengthAdjust="spacingAndGlyphs" stroke="#595959" stroke-width="0.45">Gravimetric</text>
<text transform="translate(59.60 820.90) rotate(-90)" x="374.02" y="0.00" font-family="'Liberation Sans', sans-serif" font-size="34.0" fill="#595959" textLength="69.50" lengthAdjust="spacingAndGlyphs" stroke="#595959" stroke-width="0.45">Pack</text>
<text transform="translate(1078.90 796.40) rotate(-90)" x="374.96" y="0.00" font-family="'Liberation Sans', sans-serif" font-size="34.0" fill="#595959" textLength="69.67" lengthAdjust="spacingAndGlyphs" stroke="#595959" stroke-width="0.45">Pack</text>
<text transform="translate(59.60 820.90) rotate(-90)" x="453.32" y="0.00" font-family="'Liberation Sans', sans-serif" font-size="34.0" fill="#595959" textLength="95.47" lengthAdjust="spacingAndGlyphs" stroke="#595959" stroke-width="0.45">Power</text>
<text transform="translate(1078.90 796.40) rotate(-90)" x="454.45" y="0.00" font-family="'Liberation Sans', sans-serif" font-size="34.0" fill="#595959" textLength="95.71" lengthAdjust="spacingAndGlyphs" stroke="#595959" stroke-width="0.45">Power</text>
<text transform="translate(59.60 820.90) rotate(-90)" x="558.20" y="0.00" font-family="'Liberation Sans', sans-serif" font-size="34.0" fill="#595959" textLength="113.07" lengthAdjust="spacingAndGlyphs" stroke="#595959" stroke-width="0.45">Density</text>
<text transform="translate(1078.90 796.40) rotate(-90)" x="559.60" y="0.00" font-family="'Liberation Sans', sans-serif" font-size="34.0" fill="#595959" textLength="113.35" lengthAdjust="spacingAndGlyphs" stroke="#595959" stroke-width="0.45">Density</text>
<text transform="translate(59.60 820.90) rotate(-90)" x="681.78" y="0.00" font-family="'Liberation Sans', sans-serif" font-size="34.0" fill="#595959" textLength="33.89" lengthAdjust="spacingAndGlyphs" stroke="#595959" stroke-width="0.45">(-)</text>
<text transform="translate(1078.90 796.40) rotate(-90)" x="683.48" y="0.00" font-family="'Liberation Sans', sans-serif" font-size="34.0" fill="#595959" textLength="33.98" lengthAdjust="spacingAndGlyphs" stroke="#595959" stroke-width="0.45">(-)</text>
<text x="442.45" y="1019.30" font-family="'Liberation Serif', serif" font-size="44" fill="#000" textLength="13.71" lengthAdjust="spacingAndGlyphs">(</text>
<text x="456.71" y="1019.30" font-family="'Liberation Serif', serif" font-size="40" fill="#000" textLength="19.78" lengthAdjust="spacingAndGlyphs" font-weight="bold">a</text>
<text x="476.67" y="1019.30" font-family="'Liberation Serif', serif" font-size="44" fill="#000" textLength="13.58" lengthAdjust="spacingAndGlyphs">)</text>
<text x="1530.56" y="1020.60" font-family="'Liberation Serif', serif" font-size="44" fill="#000" textLength="14.37" lengthAdjust="spacingAndGlyphs">(</text>
<text x="1546.68" y="1020.60" font-family="'Liberation Serif', serif" font-size="40" fill="#000" textLength="23.13" lengthAdjust="spacingAndGlyphs" font-weight="bold">b</text>
<text x="1570.01" y="1020.60" font-family="'Liberation Serif', serif" font-size="44" fill="#000" textLength="14.23" lengthAdjust="spacingAndGlyphs">)</text>
<text transform="translate(378.20 90.40) rotate(-73)" x="-41.47" y="11.72" font-family="'Liberation Sans', sans-serif" font-size="33.6" fill="#000" textLength="81.65" lengthAdjust="spacingAndGlyphs" stroke="#000" stroke-width="0.5">PE 50</text>
<text transform="translate(523.00 125.00) rotate(-62)" x="-41.47" y="11.72" font-family="'Liberation Sans', sans-serif" font-size="33.6" fill="#000" textLength="81.65" lengthAdjust="spacingAndGlyphs" stroke="#000" stroke-width="0.5">PE 30</text>
<text transform="translate(653.00 207.00) rotate(-51.5)" x="-41.47" y="11.72" font-family="'Liberation Sans', sans-serif" font-size="33.6" fill="#000" textLength="81.65" lengthAdjust="spacingAndGlyphs" stroke="#000" stroke-width="0.5">PE 20</text>
<text transform="translate(830.00 413.00) rotate(-32.5)" x="-41.47" y="11.72" font-family="'Liberation Sans', sans-serif" font-size="33.6" fill="#000" textLength="81.65" lengthAdjust="spacingAndGlyphs" stroke="#000" stroke-width="0.5">PE 10</text>
<text transform="translate(903.00 598.00) rotate(-17)" x="-31.88" y="11.72" font-family="'Liberation Sans', sans-serif" font-size="33.6" fill="#000" textLength="62.55" lengthAdjust="spacingAndGlyphs" stroke="#000" stroke-width="0.5">PE 5</text>
<text transform="translate(340.00 212.20) rotate(-69.5)" x="-41.08" y="11.72" font-family="'Liberation Sans', sans-serif" font-size="33.6" fill="#000" textLength="81.70" lengthAdjust="spacingAndGlyphs" stroke="#000" stroke-width="0.5">−35%</text>
<text transform="translate(425.50 304.00) rotate(-62)" x="-41.08" y="11.72" font-family="'Liberation Sans', sans-serif" font-size="33.6" fill="#000" textLength="81.70" lengthAdjust="spacingAndGlyphs" stroke="#000" stroke-width="0.5">−33%</text>
<text transform="translate(495.00 402.00) rotate(-54)" x="-41.08" y="11.72" font-family="'Liberation Sans', sans-serif" font-size="33.6" fill="#000" textLength="81.70" lengthAdjust="spacingAndGlyphs" stroke="#000" stroke-width="0.5">−40%</text>
<text transform="translate(606.50 550.00) rotate(-34)" x="-41.08" y="11.72" font-family="'Liberation Sans', sans-serif" font-size="33.6" fill="#000" textLength="81.70" lengthAdjust="spacingAndGlyphs" stroke="#000" stroke-width="0.5">−33%</text>
<text transform="translate(708.50 655.50) rotate(-19.5)" x="-41.08" y="11.72" font-family="'Liberation Sans', sans-serif" font-size="33.6" fill="#000" textLength="81.70" lengthAdjust="spacingAndGlyphs" stroke="#000" stroke-width="0.5">−33%</text>
<text transform="translate(1400.00 87.00) rotate(-73)" x="-41.47" y="11.72" font-family="'Liberation Sans', sans-serif" font-size="33.6" fill="#000" textLength="81.65" lengthAdjust="spacingAndGlyphs" stroke="#000" stroke-width="0.5">PE 50</text>
<text transform="translate(1538.00 134.00) rotate(-62)" x="-41.47" y="11.72" font-family="'Liberation Sans', sans-serif" font-size="33.6" fill="#000" textLength="81.65" lengthAdjust="spacingAndGlyphs" stroke="#000" stroke-width="0.5">PE 30</text>
<text transform="translate(1663.00 213.00) rotate(-51)" x="-41.47" y="11.72" font-family="'Liberation Sans', sans-serif" font-size="33.6" fill="#000" textLength="81.65" lengthAdjust="spacingAndGlyphs" stroke="#000" stroke-width="0.5">PE 20</text>
<text transform="translate(1833.00 420.00) rotate(-34)" x="-41.47" y="11.72" font-family="'Liberation Sans', sans-serif" font-size="33.6" fill="#000" textLength="81.65" lengthAdjust="spacingAndGlyphs" stroke="#000" stroke-width="0.5">PE 10</text>
<text transform="translate(1900.80 609.80) rotate(-17)" x="-31.88" y="11.72" font-family="'Liberation Sans', sans-serif" font-size="33.6" fill="#000" textLength="62.55" lengthAdjust="spacingAndGlyphs" stroke="#000" stroke-width="0.5">PE 5</text>
<text transform="translate(1328.00 291.00) rotate(-72)" x="-41.08" y="11.72" font-family="'Liberation Sans', sans-serif" font-size="33.6" fill="#000" textLength="81.70" lengthAdjust="spacingAndGlyphs" stroke="#000" stroke-width="0.5">−28%</text>
<text transform="translate(1413.00 363.00) rotate(-62)" x="-41.08" y="11.72" font-family="'Liberation Sans', sans-serif" font-size="33.6" fill="#000" textLength="81.70" lengthAdjust="spacingAndGlyphs" stroke="#000" stroke-width="0.5">−27%</text>
<text transform="translate(1478.00 444.60) rotate(-54.5)" x="-41.08" y="11.72" font-family="'Liberation Sans', sans-serif" font-size="33.6" fill="#000" textLength="81.70" lengthAdjust="spacingAndGlyphs" stroke="#000" stroke-width="0.5">−35%</text>
<text transform="translate(1599.70 557.60) rotate(-33.5)" x="-41.08" y="11.72" font-family="'Liberation Sans', sans-serif" font-size="33.6" fill="#000" textLength="81.70" lengthAdjust="spacingAndGlyphs" stroke="#000" stroke-width="0.5">−29%</text>
<text transform="translate(1724.50 657.00) rotate(-20)" x="-41.08" y="11.72" font-family="'Liberation Sans', sans-serif" font-size="33.6" fill="#000" textLength="81.70" lengthAdjust="spacingAndGlyphs" stroke="#000" stroke-width="0.5">−31%</text>
</svg>
</body></html>
